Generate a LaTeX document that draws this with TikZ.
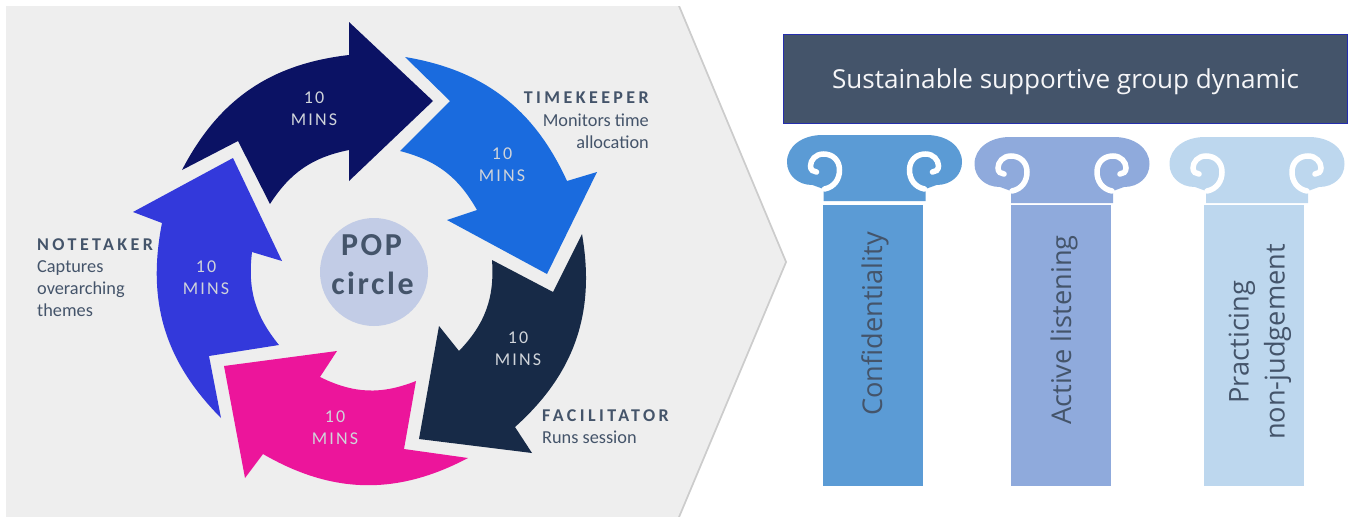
\documentclass[tikz,border=0pt]{standalone}
\usepackage{fontspec}
\usepackage{xcolor}
\setmainfont{Carlito}
\newfontfamily\segoe{Open Sans}
\newfontfamily\minsfont[LetterSpace=12]{Carlito}
\newfontfamily\rolefont[LetterSpace=19]{Carlito}
\newfontfamily\popfont[LetterSpace=8]{Carlito}
\definecolor{slate}{HTML}{44546A}
\definecolor{backdrop}{HTML}{EEEEEE}
\definecolor{navyarrow}{HTML}{0B1264}
\definecolor{bluearrow}{HTML}{1A6BDE}
\definecolor{darkarrow}{HTML}{172A47}
\definecolor{pinkarrow}{HTML}{EC159B}
\definecolor{violetarrow}{HTML}{3339DB}
\definecolor{popfill}{HTML}{C2CCE6}
\definecolor{pillarone}{HTML}{5B9BD5}
\definecolor{pillartwo}{HTML}{8FAADC}
\definecolor{pillarthree}{HTML}{BDD7EE}

\begin{document}
\begin{tikzpicture}[x=1pt, y=-1pt,
    mins/.style={text=white!75!slate, font=\fontsize{18}{21.7}\selectfont\minsfont, align=center, inner sep=0pt},
    role/.style={text=slate, font=\fontsize{18.3}{22.3}\selectfont, inner sep=0pt},
    pillar/.style={minimum width=100pt, minimum height=281pt, inner sep=0pt},
    pillarlabel/.style={rotate=90, inner sep=0pt, text=slate, align=center, font=\fontsize{27.2}{36}\selectfont\segoe},
    capital/.pic={
      \fill[#1] (-51,66) -- (-51,54) -- (-62,50) .. controls (-77,50) and (-87.5,40) .. (-87.5,27)
        .. controls (-87.5,11) and (-72,0) .. (-52,0) -- (52,0) .. controls (72,0) and (87.5,11) .. (87.5,27)
        .. controls (87.5,40) and (77,50) .. (62,50) -- (51,54) -- (51,66) -- cycle;
      \foreach \s in {1,-1} {
        \draw[white, line width=5.5pt, line cap=round, xscale=\s] (-50,54) .. controls (-40,52) and (-35,44) .. (-35,35)
          .. controls (-35,25) and (-42,19) .. (-51,19) .. controls (-59,19) and (-64,25) .. (-64,31)
          .. controls (-64,35) and (-61,37) .. (-58,37);
      }
    }]
    \useasboundingbox (0,0) rectangle (1353,517);

    \fill[black!20] (680,6) -- (787,262) -- (680,517) -- (670,517) -- (670,6) -- cycle;
    \fill[backdrop] (6,6) -- (678,6) -- (785,262) -- (678,517) -- (6,517) -- cycle;

    \fill[navyarrow] (182,170) to[bend left=28] (349,55) -- (349,22) -- (433,101) -- (349,181) -- (349,150)
      to[bend right=23] (270,204) -- (238,141) -- cycle;
    \fill[bluearrow] (405,57) to[bend left=28] (567,181) -- (597,172) -- (547,274) -- (447,220) -- (477,210)
      to[bend right=23] (400,151) -- (450,101) -- cycle;
    \fill[darkarrow] (582,234) to[bend left=29] (515,427) -- (532,453) -- (419,439) -- (439,326) -- (459,351)
      to[bend right=24] (492,260) -- (553,292) -- cycle;
    \fill[pinkarrow] (468,458) to[bend left=29] (263,454) -- (245,478) -- (224,366) -- (337,351) -- (320,377)
      to[bend right=24] (416,381) -- (404,449) -- cycle;
    \fill[violetarrow] (221,418) to[bend left=28] (162,223) -- (133,212) -- (233,158) -- (282,261) -- (252,252)
      to[bend right=23] (279,345) -- (209,356) -- cycle;

    \node[mins] (NavyMins) at (314,109) {10\\MINS};
    \node[mins] (BlueMins) at (502,165) {10\\MINS};
    \node[mins] (DarkMins) at (518,349) {10\\MINS};
    \node[mins] (PinkMins) at (335,428) {10\\MINS};
    \node[mins] (VioletMins) at (206,278) {10\\MINS};

    \node[circle, fill=popfill, minimum size=108pt, inner sep=0pt, text=slate, align=center,
      font=\fontsize{32}{39}\selectfont\bfseries\popfont] (PopCircle) at (374,272) {\raisebox{-3pt}[0pt][0pt]{POP\hspace{5pt}}\\\raisebox{-3pt}[0pt][0pt]{circle\hspace{3pt}}};

    \node[role, anchor=north east, align=right] (Timekeeper) at (649,92) {{\fontsize{18}{22.3}\selectfont\rolefont\bfseries TIMEKEEPER}\\Monitors time\\allocation};
    \node[role, anchor=north west, align=left] (Notetaker) at (37,238) {{\fontsize{18}{22.3}\selectfont\rolefont\bfseries NOTETAKER}\\Captures\\overarching\\themes};
    \node[role, anchor=north west, align=left] (Facilitator) at (542,409) {{\fontsize{18}{22.3}\selectfont\rolefont\bfseries FACILITATOR}\\Runs session};

    \node[fill=slate, draw=blue!45!slate, line width=1.2pt, minimum width=564pt, minimum height=89pt, inner sep=0pt,
      text=white!95!slate, font=\fontsize{26.1}{30}\selectfont\segoe] (Dynamic) at (1065.5,79) {\raisebox{-9pt}[0pt][0pt]{Sustainable supportive group dynamic}};

    \pic at (874.5,135) {capital=pillarone};
    \pic at (1062,137) {capital=pillartwo};
    \pic at (1257,137) {capital=pillarthree};

    \node[pillar, fill=pillarone] (Confidentiality) at (873,345.5) {};
    \node[pillar, fill=pillartwo] (ActiveListening) at (1061,345.5) {};
    \node[pillar, fill=pillarthree] (NonJudgement) at (1254,345.5) {};
    \node[pillarlabel] (ConfidentialityText) at (875,324) {Confidentiality};
    \node[pillarlabel] (ActiveListeningText) at (1064,330) {Active listening};
    \node[pillarlabel] (NonJudgementText) at (1260,342) {Practicing\\non-judgement};
  \end{tikzpicture}
\end{document}
